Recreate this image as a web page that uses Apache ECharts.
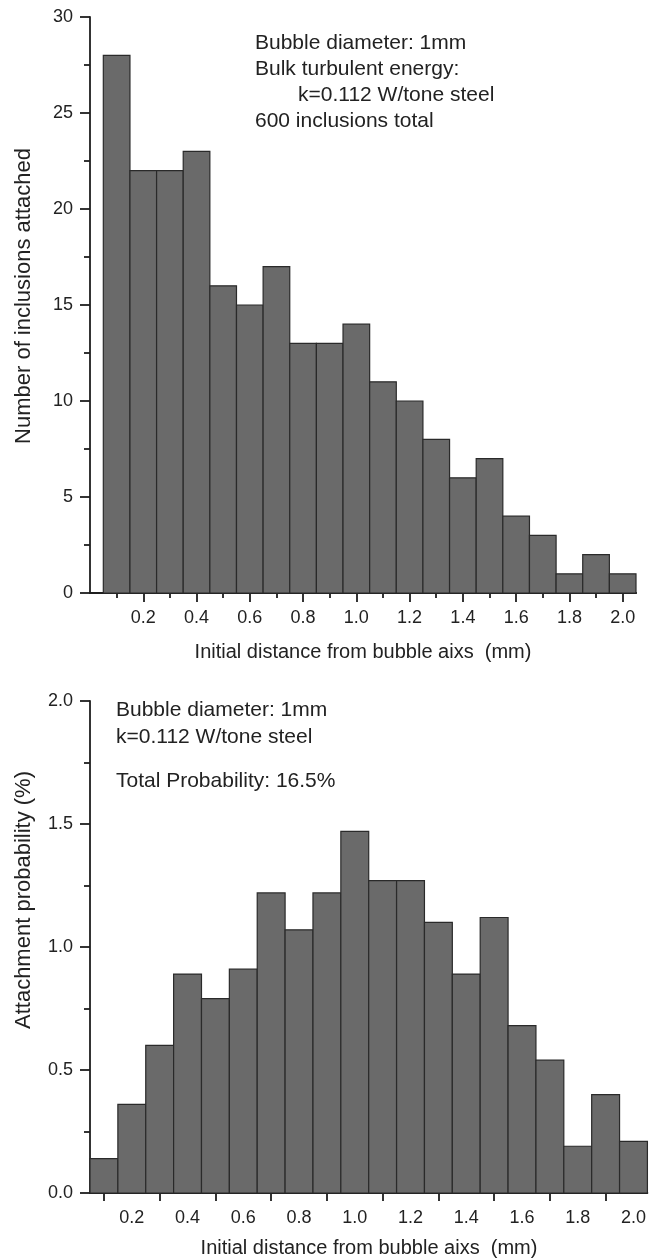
<!DOCTYPE html>
<html>
<head>
<meta charset="utf-8">
<script src="https://cdn.jsdelivr.net/npm/echarts@6/dist/echarts.min.js"></script>
<style>
html,body{margin:0;padding:0;background:#fff;}
#chart{width:649px;height:1260px;}
</style>
</head>
<body>
<div id="chart"></div>
<script>
// Bin centres (mm) shared by both histograms
const binCenters = [0.1,0.2,0.3,0.4,0.5,0.6,0.7,0.8,0.9,1.0,1.1,1.2,1.3,1.4,1.5,1.6,1.7,1.8,1.9,2.0];
// Top: number of inclusions attached
const attachedCounts = [28,22,22,23,16,15,17,13,13,14,11,10,8,6,7,4,3,1,2,1];
// Bottom: attachment probability (%)
const attachProb = [0.14,0.36,0.60,0.89,0.79,0.91,1.22,1.07,1.22,1.47,1.27,1.27,1.10,0.89,1.12,0.68,0.54,0.19,0.40,0.21];
const xMajorTicks = [0.2,0.4,0.6,0.8,1.0,1.2,1.4,1.6,1.8,2.0];
const xMinorTicks = [0.1,0.3,0.5,0.7,0.9,1.1,1.3,1.5,1.7,1.9];
const binWidth = 0.1;
const topNotes = ['Bubble diameter: 1mm','Bulk turbulent energy:','600 inclusions total'];
const topNoteK = 'k=0.112 W/tone steel';
const bottomNotes = ['Bubble diameter: 1mm','k=0.112 W/tone steel'];
const bottomNoteTotal = 'Total Probability: 16.5%';
const xTitle = 'Initial distance from bubble aixs  (mm)';
const yTitleTop = 'Number of inclusions attached';
const yTitleBottom = 'Attachment probability (%)';

const FONT = "'Liberation Sans', Arial, Helvetica, sans-serif";
const TXT = '#222';
const BAR = '#6a6a6a';
const LINE = '#1e1e1e';

function histData(vals){
  return binCenters.map((c,i)=>[c - binWidth/2, c + binWidth/2, vals[i]]);
}
function renderBar(params, api){
  const x0 = api.value(0), x1 = api.value(1), v = api.value(2);
  const p0 = api.coord([x0, v]);
  const p1 = api.coord([x1, 0]);
  return {
    type:'rect',
    shape:{x:p0[0], y:p0[1], width:p1[0]-p0[0], height:p1[1]-p0[1]},
    style:{fill:BAR, stroke:'#2a2a2a', lineWidth:1.2}
  };
}

const chart = echarts.init(document.getElementById('chart'), null, {renderer:'canvas'});
const axisLine = {show:true, onZero:false, lineStyle:{color:LINE, width:1.8}};
const tickStyle = {color:LINE, width:1.8};
const labelStyle = {color:TXT, fontSize:18, fontFamily:FONT};
const noLab = {show:false};

function xAxisDef(grid, min, max, ticks, len, labels){
  return {gridIndex:grid, type:'value', position:'bottom', offset:0, min:min, max:max, interval:0.05,
    axisLine:axisLine,
    axisTick:{show:true, inside:false, length:len, lineStyle:tickStyle, customValues:ticks},
    axisLabel: labels ? Object.assign({show:true, margin:16, customValues:labels, formatter:v=>v.toFixed(1)}, labelStyle) : noLab,
    splitLine:{show:false}};
}
function note(x, y, text){
  return {type:'text', x:x, y:y, style:{text:text, font:'21px '+FONT, fill:TXT, textVerticalAlign:'middle'}};
}

chart.setOption({
  animation:false,
  backgroundColor:'#fff',
  grid:[
    {left:90, top:17, width:546, height:576},
    {left:90, top:701, width:558, height:492}
  ],
  xAxis:[
    xAxisDef(0, 0, 2.05, xMajorTicks, 9, xMajorTicks),
    xAxisDef(0, 0, 2.05, xMinorTicks, 5, null),
    xAxisDef(1, 0.05, 2.05, xMinorTicks, 8, xMajorTicks)
  ],
  yAxis:[
    {gridIndex:0, type:'value', min:0, max:30, interval:5,
     axisLine:axisLine,
     axisTick:{show:true, length:10, lineStyle:tickStyle},
     minorTick:{show:true, splitNumber:2, length:6, lineStyle:tickStyle},
     axisLabel:Object.assign({margin:17}, labelStyle),
     splitLine:{show:false}},
    {gridIndex:1, type:'value', min:0, max:2, interval:0.5,
     axisLine:axisLine,
     axisTick:{show:true, length:10, lineStyle:tickStyle},
     minorTick:{show:true, splitNumber:2, length:6, lineStyle:tickStyle},
     axisLabel:Object.assign({margin:17, formatter:v=>v.toFixed(1)}, labelStyle),
     splitLine:{show:false}}
  ],
  series:[
    {type:'custom', xAxisIndex:0, yAxisIndex:0, renderItem:renderBar,
     encode:{x:[0,1], y:2}, data:histData(attachedCounts), z:1},
    {type:'custom', xAxisIndex:2, yAxisIndex:1, renderItem:renderBar,
     encode:{x:[0,1], y:2}, data:histData(attachProb), z:1}
  ],
  graphic:[
    note(255, 43, topNotes[0]),
    note(255, 69, topNotes[1]),
    note(298, 95, topNoteK),
    note(255, 121, topNotes[2]),
    note(116, 710, bottomNotes[0]),
    note(116, 737, bottomNotes[1]),
    note(116, 781, bottomNoteTotal),
    {type:'text', x:363, y:652, style:{text:xTitle, font:'20px '+FONT, fill:TXT, textAlign:'center', textVerticalAlign:'middle'}},
    {type:'text', x:369, y:1248, style:{text:xTitle, font:'20px '+FONT, fill:TXT, textAlign:'center', textVerticalAlign:'middle'}},
    {type:'text', x:24, y:296, rotation:Math.PI/2, style:{text:yTitleTop, font:'22px '+FONT, fill:TXT, textAlign:'center', textVerticalAlign:'middle'}},
    {type:'text', x:24, y:900, rotation:Math.PI/2, style:{text:yTitleBottom, font:'22px '+FONT, fill:TXT, textAlign:'center', textVerticalAlign:'middle'}}
  ]
});
</script>
</body>
</html>
